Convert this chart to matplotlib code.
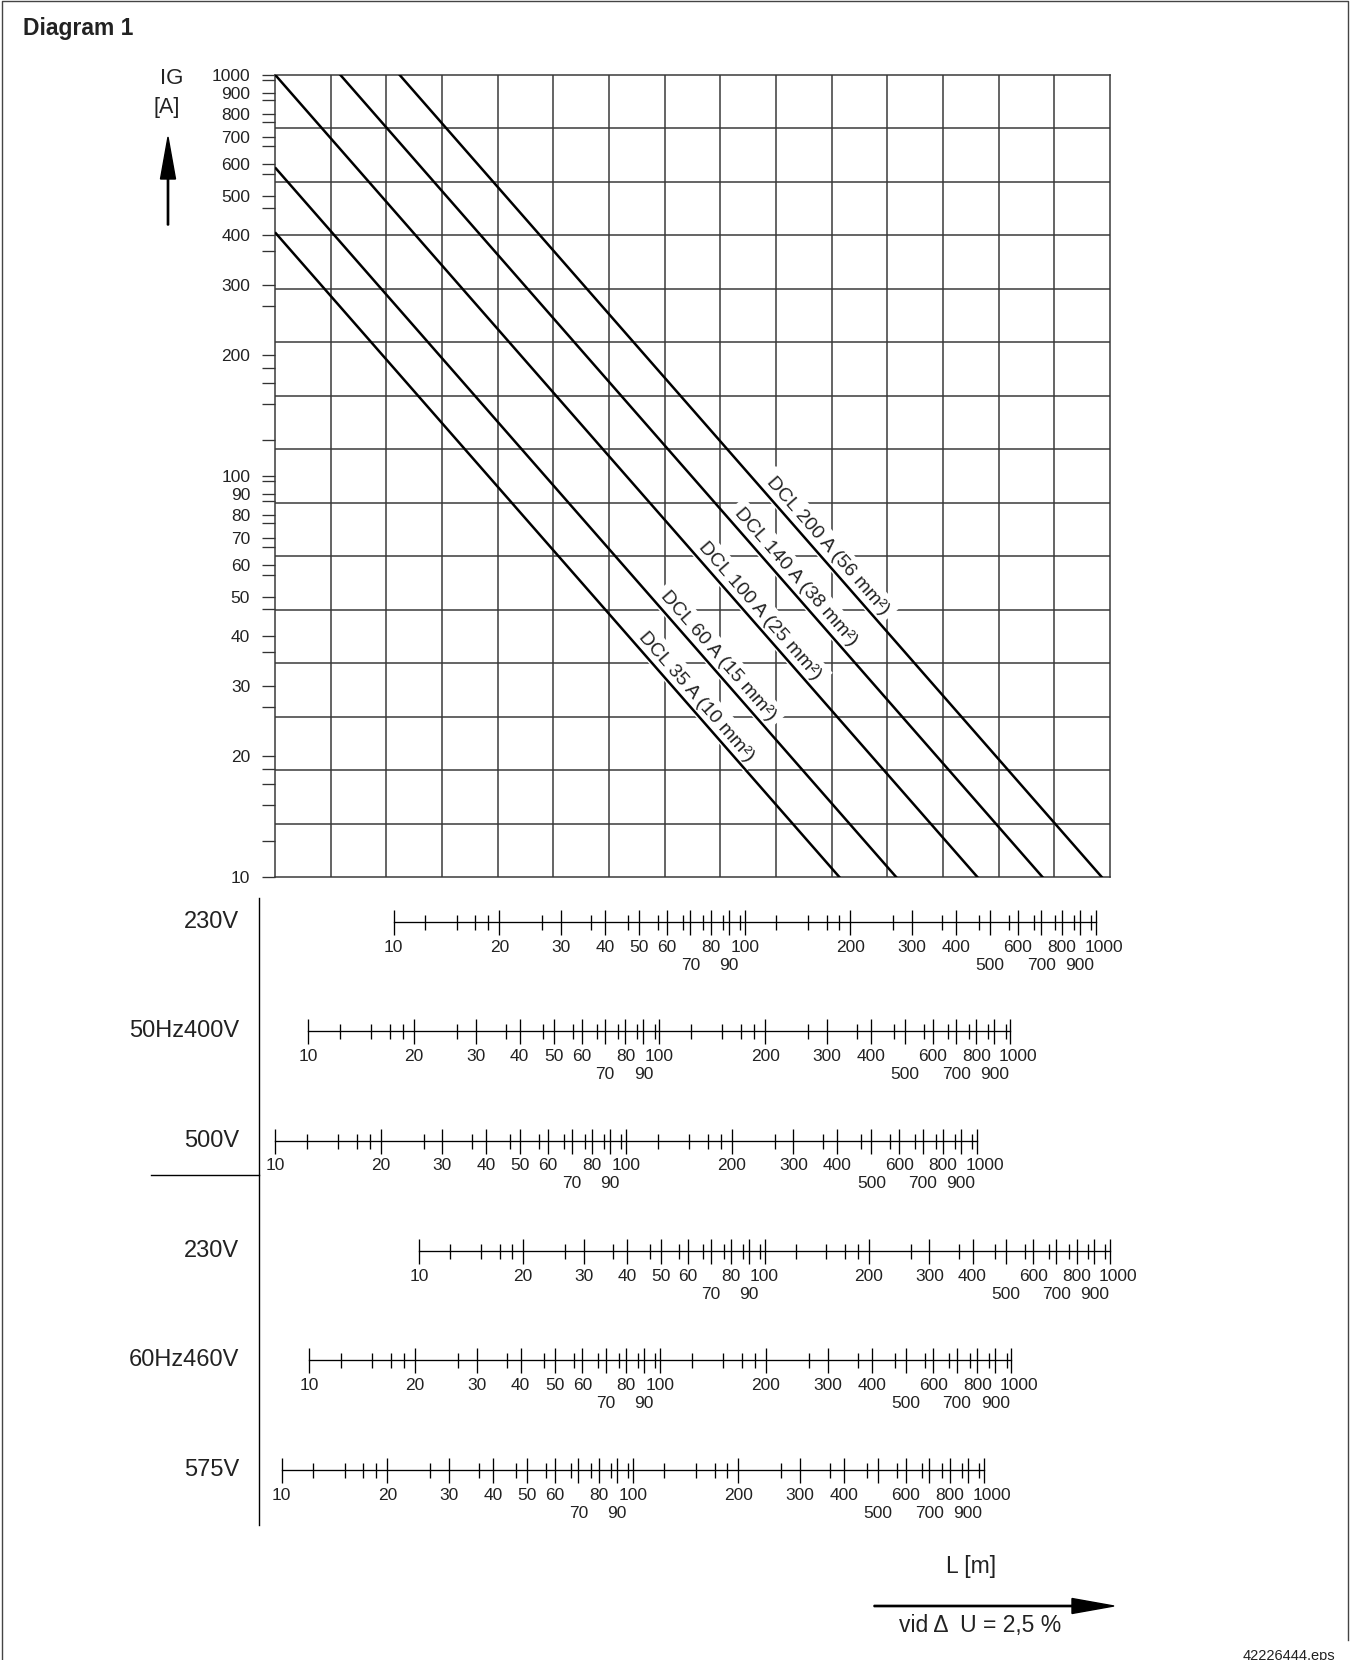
import numpy as np
import matplotlib.pyplot as plt
import matplotlib.transforms as mtransforms
from matplotlib.patches import FancyArrow
from matplotlib.ticker import NullFormatter

plt.rcParams['font.family'] = ['Liberation Sans', 'DejaVu Sans']

W, H = 1351, 1660
INK = '#222222'
GRID = '#3a3a3a'

# current axis IG [A]
ig_labeled = [10, 20, 30, 40, 50, 60, 70, 80, 90, 100,
              200, 300, 400, 500, 600, 700, 800, 900, 1000]
ig_extra = [12.3, 15.1, 17.1, 18.6, 26.5, 36.5, 46.6, 56.6, 66.5, 76.3, 86.5, 96.9,
            123, 151, 171, 186, 265, 365, 466, 566, 665, 763, 865, 969]

# cables: I * L product (A*m) read along the 230 V / 50 Hz scale
cable_labels = ['DCL 35 A (10 mm²)', 'DCL 60 A (15 mm²)', 'DCL 100 A (25 mm²)',
                'DCL 140 A (38 mm²)', 'DCL 200 A (56 mm²)']
cable_IL = [1860, 2700, 4600, 7050, 10400]
cable_label_I = [27, 34, 44, 53.5, 64]

# length scales L [m]
scale_names = ['230V', '50Hz400V', '500V', '230V', '60Hz460V', '575V']
scale_factor = [1.0, 1.75, 2.18, 0.833, 1.74, 2.085]
len_major = [10, 20, 30, 40, 50, 60, 70, 80, 90, 100,
             200, 300, 400, 500, 600, 700, 800, 900, 1000]
len_lower_row = [70, 90, 500, 700, 900]
len_minor = [12.3, 15.1, 17.1, 18.6, 26.5, 36.5, 46.6, 56.6, 66.5, 76.3, 86.5, 96.9,
             123, 151, 171, 186, 265, 365, 466, 566, 665, 763, 865, 969]

main_xlim = (4.59, 1098)   # L at 230 V / 50 Hz across the grid
main_ylim = (10, 1000)

# layout in pixels
gx0, gx1, gy0, gy1 = 275, 1110, 75, 877
scale_row_y = [922, 1031, 1141, 1251, 1360, 1470]


def fig_rect(x0, y0, x1, y1):
    return [x0 / W, 1 - y1 / H, (x1 - x0) / W, (y1 - y0) / H]


fig = plt.figure(figsize=(W / 100, H / 100), dpi=100)

# background / annotation layer in pixel units
bg = fig.add_axes([0, 0, 1, 1])
bg.set_xlim(0, W)
bg.set_ylim(H, 0)
bg.axis('off')
# outer frame (open at the bottom, as in the scan)
bg.plot([1.5, 1.5, 1348, 1348], [H, 1.5, 1.5, 1640], color='#444444', lw=1.0)
bg.text(23, 29, 'Diagram 1', fontsize=16.5, fontweight='bold', color=INK,
        ha='left', va='center')
bg.text(172, 78, 'IG', fontsize=16, color=INK, ha='center', va='center')
bg.text(167, 108, '[A]', fontsize=15.5, color=INK, ha='center', va='center')
bg.add_patch(FancyArrow(168, 225, 0, -88, width=1.3, head_width=15, head_length=42,
                        length_includes_head=True, color='black'))
bg.plot([259, 259], [898, 1525], color='black', lw=1.0)
bg.plot([151, 259], [1175, 1175], color='black', lw=1.0)
bg.text(971, 1566, 'L [m]', fontsize=16.5, color=INK, ha='center', va='center')
bg.add_patch(FancyArrow(874, 1606, 240, 0, width=1.3, head_width=15, head_length=42,
                        length_includes_head=True, color='black'))
bg.text(980, 1625, 'vid Δ  U = 2,5 %', fontsize=16.5, color=INK, ha='center', va='center')
bg.text(1335, 1649, '42226444.eps', fontsize=10.5, color=INK, ha='right', va='top')

# main nomogram
ax = fig.add_axes(fig_rect(gx0, gy0, gx1, gy1))
ax.set_xscale('log')
ax.set_yscale('log')
ax.set_xlim(*main_xlim)
ax.set_ylim(*main_ylim)
for v in np.geomspace(main_xlim[0], main_xlim[1], 16)[1:-1]:
    ax.axvline(v, color=GRID, lw=1.1, zorder=1)
for v in np.geomspace(main_ylim[0], main_ylim[1], 16)[1:-1]:
    ax.axhline(v, color=GRID, lw=1.1, zorder=1)
for s in ax.spines.values():
    s.set_color(GRID)
    s.set_linewidth(1.1)
ax.set_xticks([])
ax.xaxis.set_minor_locator(plt.NullLocator())
ax.set_yticks(ig_labeled, labels=[str(v) for v in ig_labeled])
ax.set_yticks(ig_extra, minor=True)
ax.yaxis.set_minor_formatter(NullFormatter())
ax.tick_params(axis='y', which='both', direction='out', length=9.4, width=0.95,
               color='#333333')
ax.tick_params(axis='y', which='major', pad=8.5, labelsize=12.5, labelcolor=INK)

Ls = np.geomspace(main_xlim[0], main_xlim[1], 200)
for lab, k, li in zip(cable_labels, cable_IL, cable_label_I):
    ax.plot(Ls, k / Ls, color='black', lw=1.8, zorder=3, solid_capstyle='butt')
    p1 = ax.transData.transform((10, k / 10))
    p2 = ax.transData.transform((100, k / 100))
    ang = np.degrees(np.arctan2(p2[1] - p1[1], p2[0] - p1[0]))
    a = np.radians(ang)
    off = mtransforms.offset_copy(ax.transData, fig=fig, x=-3 * np.sin(a),
                                  y=3 * np.cos(a), units='dots')
    ax.text(k / li, li, lab, transform=off, rotation=ang, rotation_mode='anchor',
            ha='center', va='bottom', fontsize=14, color=INK, zorder=2,
            bbox=dict(facecolor='white', edgecolor='none', pad=4))

# length scales
label_nudge = {1000: 8}
for name, f, yc in zip(scale_names, scale_factor, scale_row_y):
    sa = fig.add_axes(fig_rect(gx0, yc - 30, gx1, yc + 30))
    sa.patch.set_visible(False)
    sa.set_xscale('log')
    sa.set_xlim(main_xlim[0] * f, main_xlim[1] * f)
    sa.set_ylim(0, 1)
    for s in ['top', 'left', 'right']:
        sa.spines[s].set_visible(False)
    sa.spines['bottom'].set_position(('axes', 0.5))
    sa.spines['bottom'].set_bounds(10, 1000)
    sa.spines['bottom'].set_linewidth(0.95)
    sa.yaxis.set_visible(False)
    sa.set_xticks(len_major)
    sa.set_xticks(len_minor, minor=True)
    sa.xaxis.set_major_formatter(NullFormatter())
    sa.xaxis.set_minor_formatter(NullFormatter())
    sa.tick_params(which='major', direction='inout', length=18, width=0.95)
    sa.tick_params(which='minor', direction='inout', length=10.8, width=0.95)
    for v in len_major:
        drop = 43 if v in len_lower_row else 25
        tr = mtransforms.offset_copy(sa.get_xaxis_transform(), fig=fig,
                                     x=label_nudge.get(v, 0), y=-drop, units='dots')
        sa.text(v, 0.5, str(v), transform=tr, ha='center', va='center',
                fontsize=12.5, color=INK, clip_on=False)
    bg.text(239, yc, name, fontsize=17, color=INK, ha='right', va='center')

fig.savefig('out.png', dpi=100)
